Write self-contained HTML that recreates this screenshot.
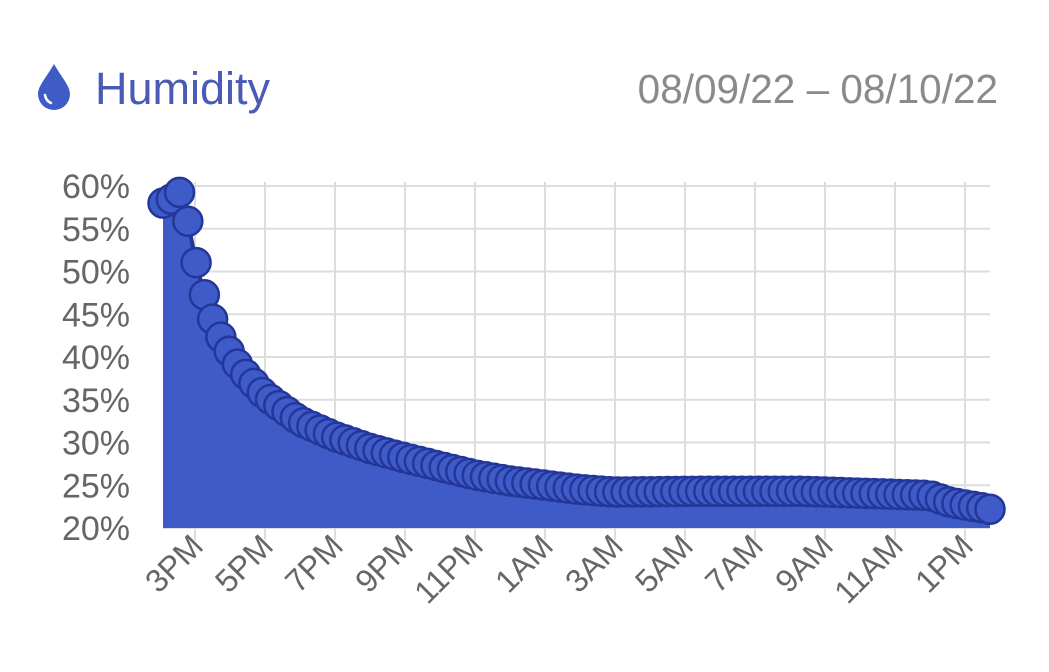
<!DOCTYPE html>
<html><head><meta charset="utf-8"><style>
html,body{margin:0;padding:0;background:#fff;width:1049px;height:672px;overflow:hidden}
svg{display:block}
</style></head><body>
<svg id="s" width="1049" height="672" xmlns="http://www.w3.org/2000/svg" font-family="Liberation Sans, sans-serif">
<path d="M54 64 C46 78 38 86 38 94 A16 16 0 0 0 70 94 C70 86 62 78 54 64Z" fill="#3f5bc8"/>
<path d="M45 95 Q46 101 51 103" stroke="#fff" stroke-width="2.5" fill="none" stroke-linecap="round"/>
<text x="95" y="104" font-size="45" fill="#4a5bb5">Humidity</text>
<text x="998" y="103" font-size="40.5" fill="#8a8a8a" text-anchor="end">08/09/22 – 08/10/22</text>
<g id="g"></g>
</svg>
<script>
const g=document.getElementById('g');let h='';
const yv=v=>528-(v-20)*8.55;
for(let i=0;i<=8;i++){const v=20+i*5,y=yv(v);
h+=`<line x1="163" x2="990" y1="${y}" y2="${y}" stroke="#ddd" stroke-width="2"/>`;
h+=`<text x="130" y="${y+12}" font-size="34" fill="#666" text-anchor="end">${v}%</text>`;}
const labs=['3PM','5PM','7PM','9PM','11PM','1AM','3AM','5AM','7AM','9AM','11AM','1PM'];
labs.forEach((l,i)=>{const x=195+i*70;
h+=`<line x1="${x}" x2="${x}" y1="182" y2="540" stroke="#ddd" stroke-width="2"/>`;
h+=`<text transform="translate(${x+10},548) rotate(-45)" font-size="32" fill="#666" text-anchor="end">${l}</text>`;});
const k=[[163,58],[172,58.5],[180,59.3],[188,55.8],[197,50.5],[205,47],[213,44.3],[221,42.3],[230,40.5],[240,38.7],[265,35.5],[300,32.5],[335,30.7],[370,29.3],[405,28.2],[440,27.2],[475,26.2],[510,25.5],[545,25],[580,24.5],[615,24.2],[700,24.3],[800,24.3],[880,24],[930,23.8],[950,23],[975,22.5],[990,22.2]];
const f=x=>{for(let i=1;i<k.length;i++){if(x<=k[i][0]){const a=k[i-1],b=k[i];return a[1]+(b[1]-a[1])*(x-a[0])/(b[0]-a[0]);}}return k[k.length-1][1];};
const pts=[];for(let x=163;x<=990.5;x+=8.27){pts.push([x,yv(f(x))]);}
let d=`M163 528 `+pts.map(p=>`L${p[0].toFixed(1)} ${p[1].toFixed(1)}`).join(' ')+` L990 528Z`;
h+=`<path d="${d}" fill="#3f5bc8"/>`;
h+=`<polyline points="${pts.map(p=>p.join(',')).join(' ')}" fill="none" stroke="#23379a" stroke-width="4"/>`;
pts.forEach(p=>{h+=`<circle cx="${p[0]}" cy="${p[1]}" r="14.5" fill="#3f5bc8" stroke="#23379a" stroke-width="2.5"/>`;});
g.innerHTML=h;
</script>
</body></html>
